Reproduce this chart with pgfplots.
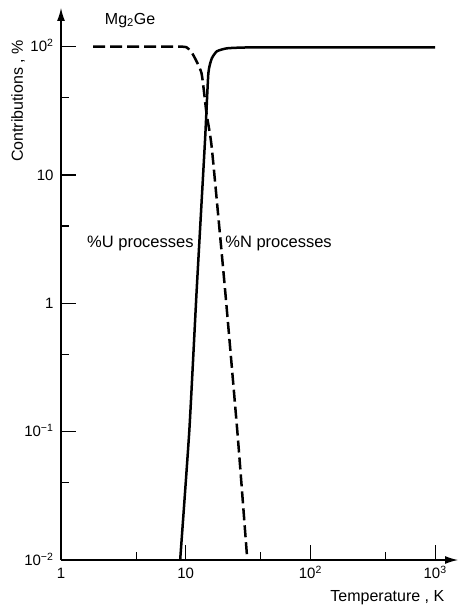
\documentclass[border=0pt]{standalone}
\usepackage{fontspec}
\setmainfont{Liberation Sans}
\usepackage{pgfplots}
\pgfplotsset{compat=1.18}
\usetikzlibrary{arrows.meta}
\newcommand{\ff}{\fontsize{15}{18}\selectfont}
\newcommand{\fl}{\fontsize{16}{19}\selectfont}
\newcommand{\fp}{\fontsize{16.5}{19}\selectfont}
\begin{document}
\begin{tikzpicture}[font=\ff]
\begin{axis}[
  at={(61pt,48pt)}, anchor=south west,
  scale only axis, width=397pt, height=552pt,
  xmode=log, ymode=log,
  xmin=1, xmax=1527, ymin=0.01, ymax=200,
  axis lines=left,
  axis line style={line width=1.2pt, -{Latex[length=13pt,width=8pt]}},
  clip=false,
  font=\ff,
  tick label style={font=\ff},
  label style={font=\fl},
  xtick={1,10,100,1000},
  xticklabels={1,10,10\textsuperscript{2},10\textsuperscript{3}},
  ytick={0.01,0.1,1,10,100},
  yticklabels={10\textsuperscript{−2},10\textsuperscript{−1},1,10,10\textsuperscript{2}},
  minor xtick={4,40,400},
  minor ytick={0.04,0.4,4,40},
  tick align=inside,
  major tick length=15pt, minor tick length=8pt,
  tick style={line width=1.1pt, black},
  xticklabel style={text height=12pt, text depth=0pt, anchor=north, yshift=-3pt},
  yticklabel style={anchor=base east, yshift=-5.3pt, xshift=-4pt},
  xlabel={Temperature , K},
  xlabel style={at={(axis description cs:0.822,-0.068)}, anchor=center},
  ylabel={Contributions , \%},
  ylabel style={at={(axis description cs:-0.108,0.8315)}, anchor=center},
]
\addplot[line width=2.5pt, smooth, tension=0.3] coordinates {
  (9.03,0.01) (10.7,0.103) (12.25,1.27) (14.3,18.8) (15.2,62) (16.2,81)
  (17.8,92) (21.4,97) (31,98.5) (100,98.5) (1000,98.5)};
\addplot[line width=2.5pt, dash pattern=on 12pt off 5pt, smooth, tension=0.3] coordinates {
  (1.81,100) (9.0,100) (10.4,97) (11.5,86) (13.4,62) (14.7,30) (16.2,16.2)
  (20.7,1.27) (26.1,0.094) (31.2,0.01)};
\node[font=\fl] at (axis description cs:0.174,0.978) {Mg\textsubscript{2}Ge};
\node[font=\fp] at (axis description cs:0.200,0.574) {\%U processes};
\node[font=\fp] at (axis description cs:0.548,0.574) {\%N processes};
\end{axis}
\pgfresetboundingbox
\useasboundingbox (0,0) rectangle (460pt,608pt);
\end{tikzpicture}
\end{document}
